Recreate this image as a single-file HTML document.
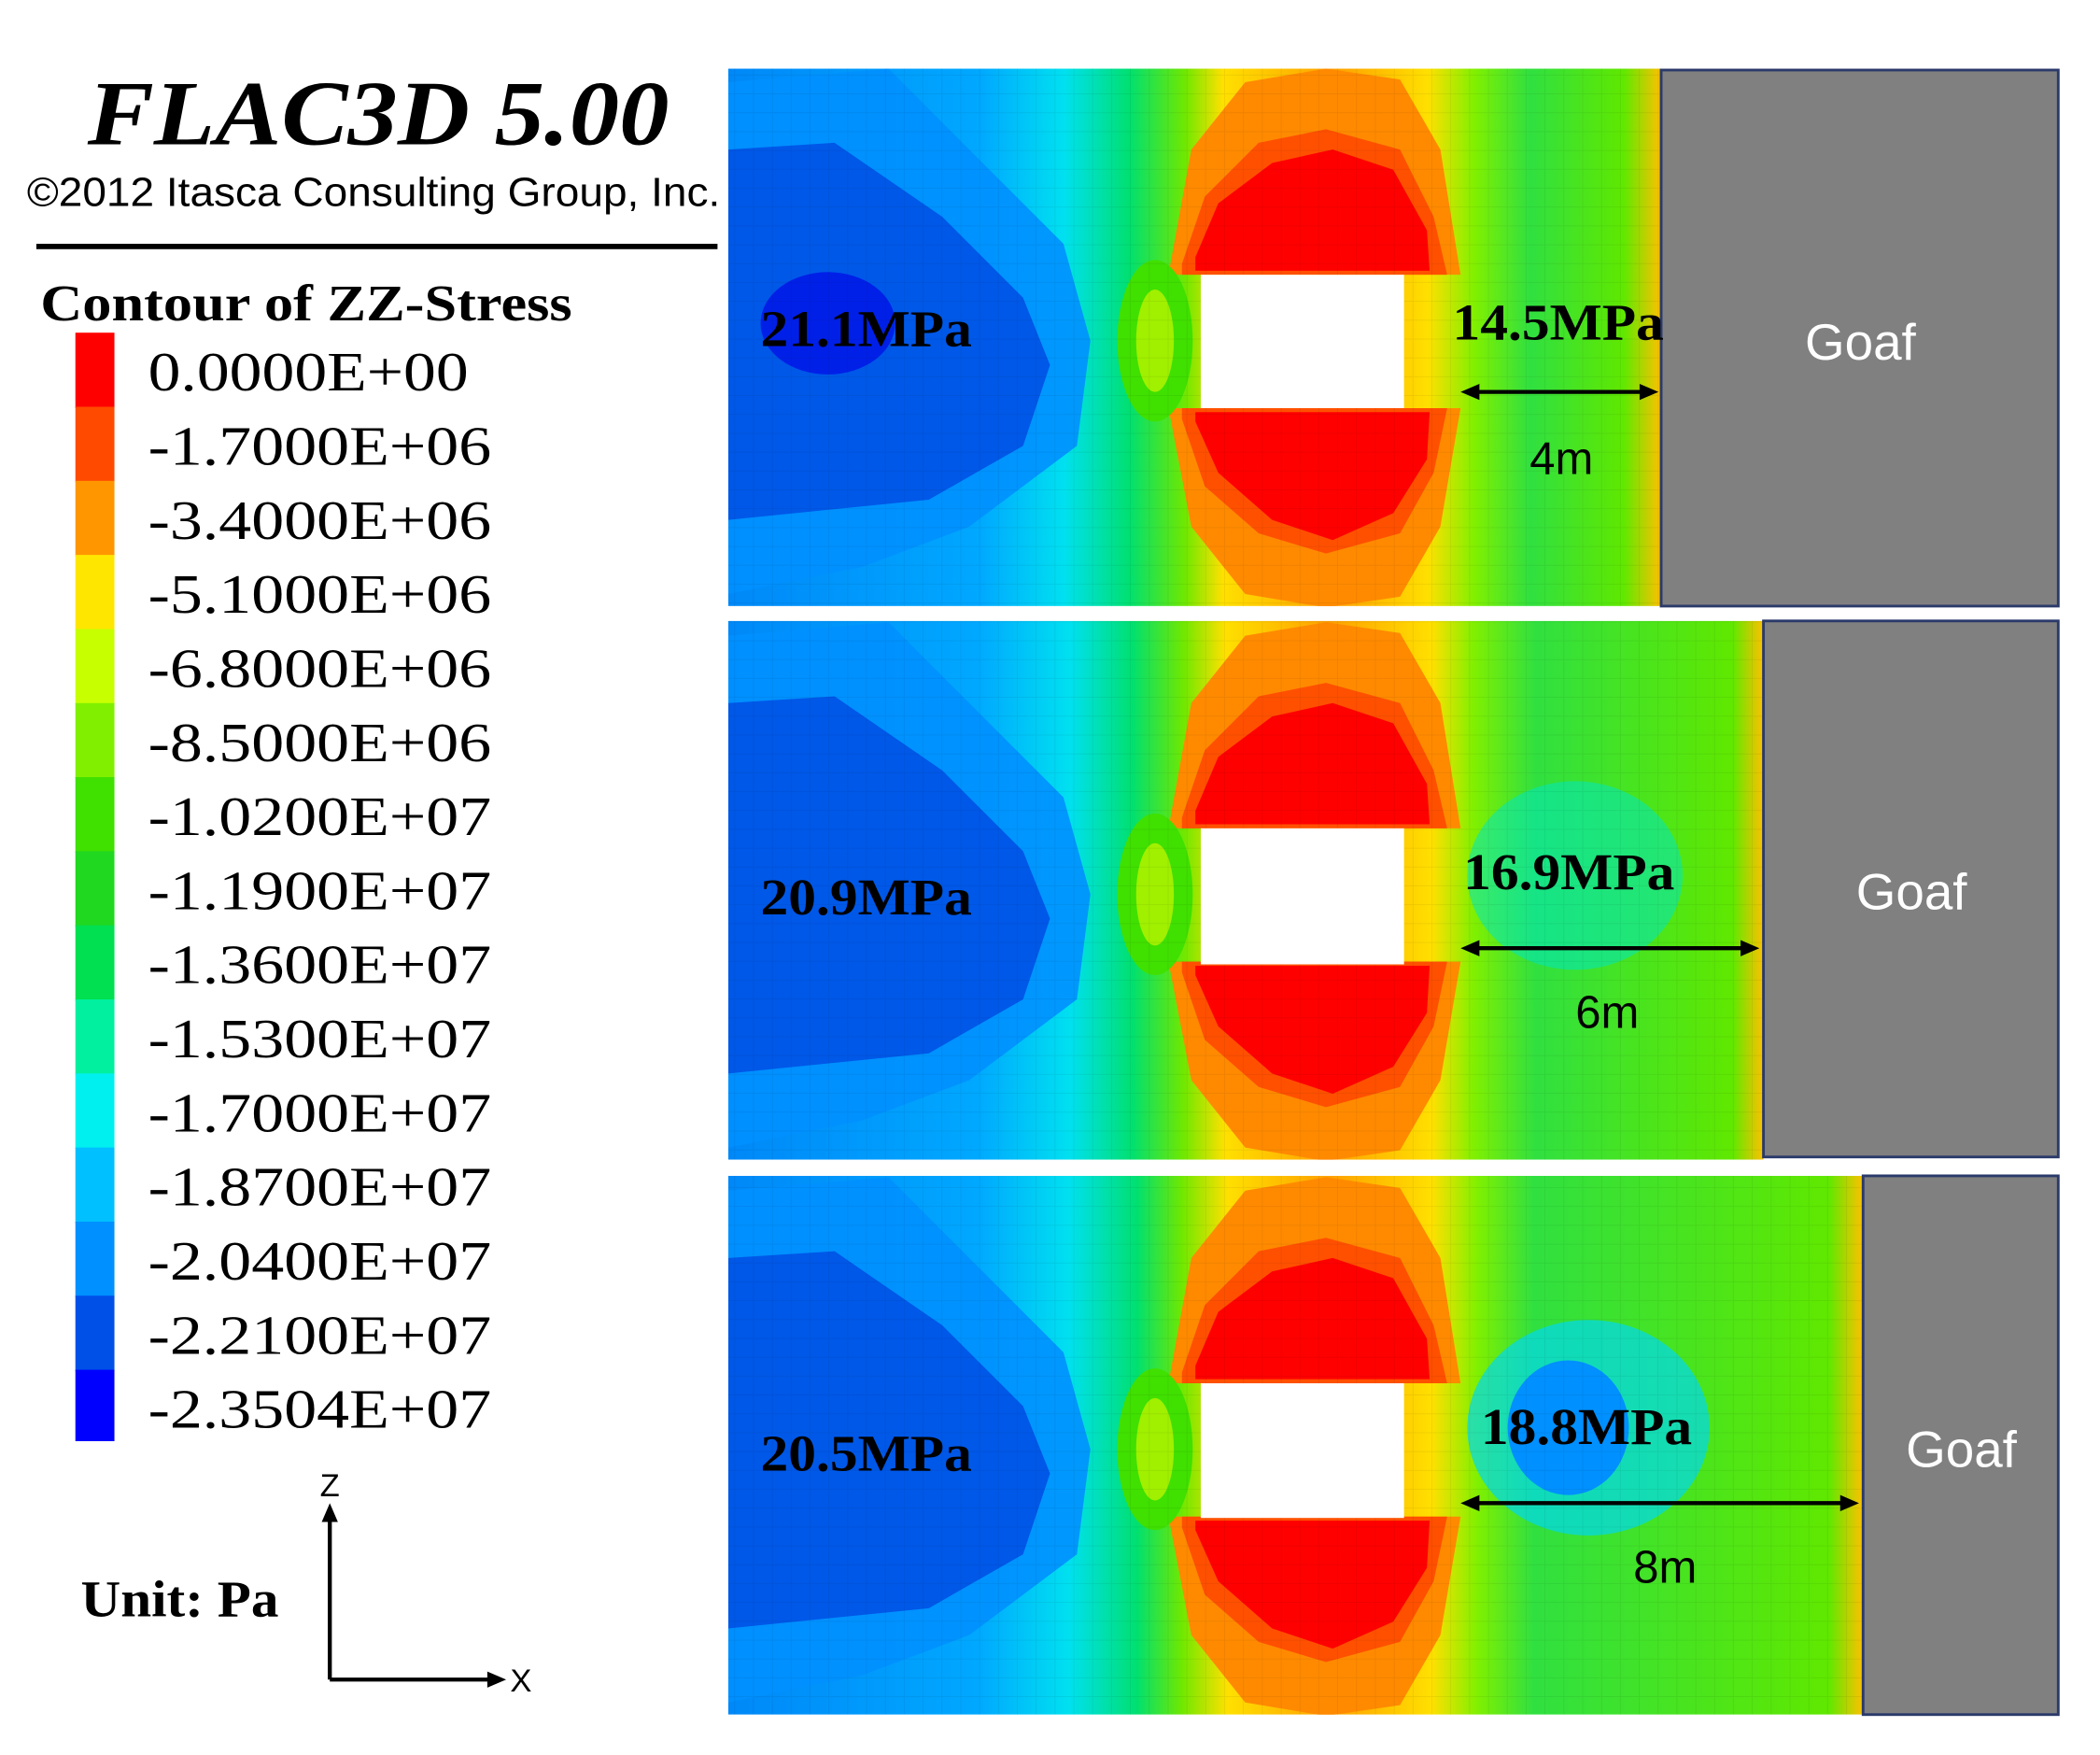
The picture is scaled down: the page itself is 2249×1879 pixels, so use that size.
<!DOCTYPE html>
<html><head><meta charset="utf-8"><style>
html,body{margin:0;padding:0;background:#fff;}
svg{display:block;}
</style></head><body>
<svg width="2249" height="1879" viewBox="0 0 1560 1303" preserveAspectRatio="none" xmlns="http://www.w3.org/2000/svg">
<defs>
<linearGradient id="bg1" x1="541" x2="1234" y1="0" y2="0" gradientUnits="userSpaceOnUse">
<stop offset="0" stop-color="#0088f8"/><stop offset="0.27" stop-color="#00a8ff"/><stop offset="0.36" stop-color="#00e0f0"/><stop offset="0.43" stop-color="#00e070"/><stop offset="0.49" stop-color="#70e800"/><stop offset="0.53" stop-color="#ffe000"/><stop offset="0.65" stop-color="#ffa000"/><stop offset="0.75" stop-color="#ffe000"/><stop offset="0.8" stop-color="#80f000"/><stop offset="0.86" stop-color="#30e040"/><stop offset="0.96" stop-color="#60e800"/><stop offset="1" stop-color="#ffc000"/>
</linearGradient>
<linearGradient id="bg2" x1="541" x2="1310" y1="0" y2="0" gradientUnits="userSpaceOnUse">
<stop offset="0" stop-color="#0088f8"/><stop offset="0.24" stop-color="#00a8ff"/><stop offset="0.33" stop-color="#00e0f0"/><stop offset="0.39" stop-color="#00e070"/><stop offset="0.44" stop-color="#70e800"/><stop offset="0.48" stop-color="#ffe000"/><stop offset="0.58" stop-color="#ffa000"/><stop offset="0.68" stop-color="#ffe000"/><stop offset="0.72" stop-color="#80f000"/><stop offset="0.78" stop-color="#30e040"/><stop offset="0.97" stop-color="#60e800"/><stop offset="1" stop-color="#ffc000"/>
</linearGradient>
<linearGradient id="bg3" x1="541" x2="1384" y1="0" y2="0" gradientUnits="userSpaceOnUse">
<stop offset="0" stop-color="#0088f8"/><stop offset="0.22" stop-color="#00a8ff"/><stop offset="0.3" stop-color="#00e0f0"/><stop offset="0.36" stop-color="#00e070"/><stop offset="0.4" stop-color="#70e800"/><stop offset="0.44" stop-color="#ffe000"/><stop offset="0.53" stop-color="#ffa000"/><stop offset="0.62" stop-color="#ffe000"/><stop offset="0.66" stop-color="#80f000"/><stop offset="0.71" stop-color="#30e040"/><stop offset="0.97" stop-color="#60e800"/><stop offset="1" stop-color="#ffc000"/>
</linearGradient>
<pattern id="grid" width="14" height="14" patternUnits="userSpaceOnUse">
<path d="M14 0V14M0 14H14" stroke="#000" stroke-opacity="0.08" stroke-width="1" fill="none"/>
</pattern>
<g id="lobes">
<path d="M868 153 L885 60 L925 10 L985 0 L1040 8 L1070 60 L1085 153 Z" fill="#ff8a00"/>
<path d="M878 145 L895 95 L935 55 L985 45 L1040 60 L1065 110 L1075 153 L878 153 Z" fill="#ff5000"/>
<path d="M888 140 L905 100 L945 70 L990 60 L1035 75 L1060 120 L1062 150 L888 150 Z" fill="#ff0000"/>
<path d="M868 252 L885 340 L925 390 L985 400 L1040 392 L1070 340 L1085 252 Z" fill="#ff8a00"/>
<path d="M878 260 L895 310 L935 345 L985 360 L1040 345 L1065 300 L1075 252 L878 252 Z" fill="#ff5000"/>
<path d="M888 262 L905 300 L945 335 L990 350 L1035 330 L1060 290 L1062 255 L888 255 Z" fill="#ff0000"/>
<ellipse cx="858" cy="202" rx="28" ry="60" fill="#40e000"/>
<ellipse cx="858" cy="202" rx="14" ry="38" fill="#a0f000"/>
<path d="M541 10 L660 0 L720 60 L790 130 L810 202 L800 280 L720 340 L640 370 L541 390 Z" fill="#0090ff" opacity="0.9"/>
<path d="M541 60 L620 55 L700 110 L760 170 L780 220 L760 280 L690 320 L541 335 Z" fill="#0058e8"/>
</g>
</defs>

<text x="65" y="107" textLength="432" lengthAdjust="spacingAndGlyphs" font-family="Liberation Serif,serif" font-weight="bold" font-style="italic" font-size="68">FLAC3D 5.00</text>
<text x="20" y="153" textLength="515" lengthAdjust="spacingAndGlyphs" font-family="Liberation Sans,sans-serif" font-size="30">©2012 Itasca Consulting Group, Inc.</text>
<rect x="27" y="181" width="506" height="4" fill="#000"/>
<text x="30" y="238" textLength="395" lengthAdjust="spacingAndGlyphs" font-family="Liberation Serif,serif" font-weight="bold" font-size="38">Contour of ZZ-Stress</text>

<g>
<rect x="56" y="247" width="29" height="56" fill="#ff0000"/>
<rect x="56" y="302" width="29" height="56" fill="#ff4a00"/>
<rect x="56" y="357" width="29" height="56" fill="#ff9600"/>
<rect x="56" y="412" width="29" height="56" fill="#ffe600"/>
<rect x="56" y="467" width="29" height="56" fill="#c8ff00"/>
<rect x="56" y="522" width="29" height="56" fill="#80f000"/>
<rect x="56" y="577" width="29" height="56" fill="#40e000"/>
<rect x="56" y="632" width="29" height="56" fill="#20d820"/>
<rect x="56" y="687" width="29" height="56" fill="#00e050"/>
<rect x="56" y="742" width="29" height="56" fill="#00f0a0"/>
<rect x="56" y="797" width="29" height="56" fill="#00f0f0"/>
<rect x="56" y="852" width="29" height="56" fill="#00c0ff"/>
<rect x="56" y="907" width="29" height="56" fill="#0090ff"/>
<rect x="56" y="962" width="29" height="56" fill="#0050e8"/>
<rect x="56" y="1017" width="29" height="53" fill="#0000ff"/>
</g>
<g font-family="Liberation Serif,serif" font-size="41" lengthAdjust="spacingAndGlyphs">
<text x="110" y="290" textLength="238" lengthAdjust="spacingAndGlyphs">0.0000E+00</text>
<text x="110" y="345" textLength="255" lengthAdjust="spacingAndGlyphs">-1.7000E+06</text>
<text x="110" y="400" textLength="255" lengthAdjust="spacingAndGlyphs">-3.4000E+06</text>
<text x="110" y="455" textLength="255" lengthAdjust="spacingAndGlyphs">-5.1000E+06</text>
<text x="110" y="510" textLength="255" lengthAdjust="spacingAndGlyphs">-6.8000E+06</text>
<text x="110" y="565" textLength="255" lengthAdjust="spacingAndGlyphs">-8.5000E+06</text>
<text x="110" y="620" textLength="255" lengthAdjust="spacingAndGlyphs">-1.0200E+07</text>
<text x="110" y="675" textLength="255" lengthAdjust="spacingAndGlyphs">-1.1900E+07</text>
<text x="110" y="730" textLength="255" lengthAdjust="spacingAndGlyphs">-1.3600E+07</text>
<text x="110" y="785" textLength="255" lengthAdjust="spacingAndGlyphs">-1.5300E+07</text>
<text x="110" y="840" textLength="255" lengthAdjust="spacingAndGlyphs">-1.7000E+07</text>
<text x="110" y="895" textLength="255" lengthAdjust="spacingAndGlyphs">-1.8700E+07</text>
<text x="110" y="950" textLength="255" lengthAdjust="spacingAndGlyphs">-2.0400E+07</text>
<text x="110" y="1005" textLength="255" lengthAdjust="spacingAndGlyphs">-2.2100E+07</text>
<text x="110" y="1060" textLength="255" lengthAdjust="spacingAndGlyphs">-2.3504E+07</text>
</g>

<path d="M245 1247 V1125 M245 1247 H366" stroke="#000" stroke-width="3" fill="none"/>
<path d="M239 1130 L245 1116 L251 1130 Z M362 1241 L376 1247 L362 1253 Z" fill="#000"/>
<text x="245" y="1111" text-anchor="middle" font-family="Liberation Sans,sans-serif" font-size="24">Z</text>
<text x="387" y="1256" text-anchor="middle" font-family="Liberation Sans,sans-serif" font-size="24">X</text>
<text x="60" y="1200" textLength="147" lengthAdjust="spacingAndGlyphs" font-family="Liberation Serif,serif" font-weight="bold" font-size="38">Unit: Pa</text>

<clipPath id="c1"><rect x="541" y="51" width="693" height="399"/></clipPath>
<g clip-path="url(#c1)">
<rect x="541" y="51" width="693" height="399" fill="url(#bg1)"/>
<use href="#lobes" transform="translate(0,51)"/>
<ellipse cx="615" cy="240" rx="50" ry="38" fill="#0020e8"/>
<rect x="541" y="51" width="693" height="399" fill="url(#grid)"/>
</g>
<rect x="892" y="204" width="151" height="99" fill="#fff"/>
<rect x="1234" y="52" width="295" height="398" fill="#808080" stroke="#2a3a6a" stroke-width="2"/>
<text x="1382" y="267" text-anchor="middle" fill="#fff" font-family="Liberation Sans,sans-serif" font-size="38">Goaf</text>
<text x="565" y="257" textLength="157" lengthAdjust="spacingAndGlyphs" font-family="Liberation Serif,serif" font-weight="bold" font-size="38">21.1MPa</text>
<text x="1079" y="252" textLength="157" lengthAdjust="spacingAndGlyphs" font-family="Liberation Serif,serif" font-weight="bold" font-size="38">14.5MPa</text>
<path d="M1095 291 H1222" stroke="#000" stroke-width="3"/>
<path d="M1085 291 L1099 285 L1099 297 Z M1232 291 L1218 285 L1218 297 Z" fill="#000"/>
<text x="1160" y="352" text-anchor="middle" font-family="Liberation Sans,sans-serif" font-size="34">4m</text>

<clipPath id="c2"><rect x="541" y="461" width="769" height="400"/></clipPath>
<g clip-path="url(#c2)">
<rect x="541" y="461" width="769" height="400" fill="url(#bg2)"/>
<use href="#lobes" transform="translate(0,462)"/>
<ellipse cx="1170" cy="650" rx="80" ry="70" fill="#00e8c0" opacity="0.55"/>
<rect x="541" y="461" width="769" height="400" fill="url(#grid)"/>
</g>
<rect x="892" y="615" width="151" height="101" fill="#fff"/>
<rect x="1310" y="461" width="219" height="398" fill="#808080" stroke="#2a3a6a" stroke-width="2"/>
<text x="1420" y="675" text-anchor="middle" fill="#fff" font-family="Liberation Sans,sans-serif" font-size="38">Goaf</text>
<text x="565" y="679" textLength="157" lengthAdjust="spacingAndGlyphs" font-family="Liberation Serif,serif" font-weight="bold" font-size="38">20.9MPa</text>
<text x="1087" y="660" textLength="157" lengthAdjust="spacingAndGlyphs" font-family="Liberation Serif,serif" font-weight="bold" font-size="38">16.9MPa</text>
<path d="M1095 704 H1297" stroke="#000" stroke-width="3"/>
<path d="M1085 704 L1099 698 L1099 710 Z M1307 704 L1293 698 L1293 710 Z" fill="#000"/>
<text x="1194" y="763" text-anchor="middle" font-family="Liberation Sans,sans-serif" font-size="34">6m</text>

<clipPath id="c3"><rect x="541" y="873" width="843" height="400"/></clipPath>
<g clip-path="url(#c3)">
<rect x="541" y="873" width="843" height="400" fill="url(#bg3)"/>
<use href="#lobes" transform="translate(0,874)"/>
<ellipse cx="1180" cy="1060" rx="90" ry="80" fill="#00d8f0" opacity="0.7"/>
<ellipse cx="1165" cy="1060" rx="45" ry="50" fill="#0090ff"/>
<rect x="541" y="873" width="843" height="400" fill="url(#grid)"/>
</g>
<rect x="892" y="1027" width="151" height="100" fill="#fff"/>
<rect x="1384" y="873" width="145" height="400" fill="#808080" stroke="#2a3a6a" stroke-width="2"/>
<text x="1457" y="1089" text-anchor="middle" fill="#fff" font-family="Liberation Sans,sans-serif" font-size="38">Goaf</text>
<text x="565" y="1092" textLength="157" lengthAdjust="spacingAndGlyphs" font-family="Liberation Serif,serif" font-weight="bold" font-size="38">20.5MPa</text>
<text x="1100" y="1072" textLength="157" lengthAdjust="spacingAndGlyphs" font-family="Liberation Serif,serif" font-weight="bold" font-size="38">18.8MPa</text>
<path d="M1095 1116 H1371" stroke="#000" stroke-width="3"/>
<path d="M1085 1116 L1099 1110 L1099 1122 Z M1381 1116 L1367 1110 L1367 1122 Z" fill="#000"/>
<text x="1237" y="1175" text-anchor="middle" font-family="Liberation Sans,sans-serif" font-size="34">8m</text>
</svg>
</body></html>
